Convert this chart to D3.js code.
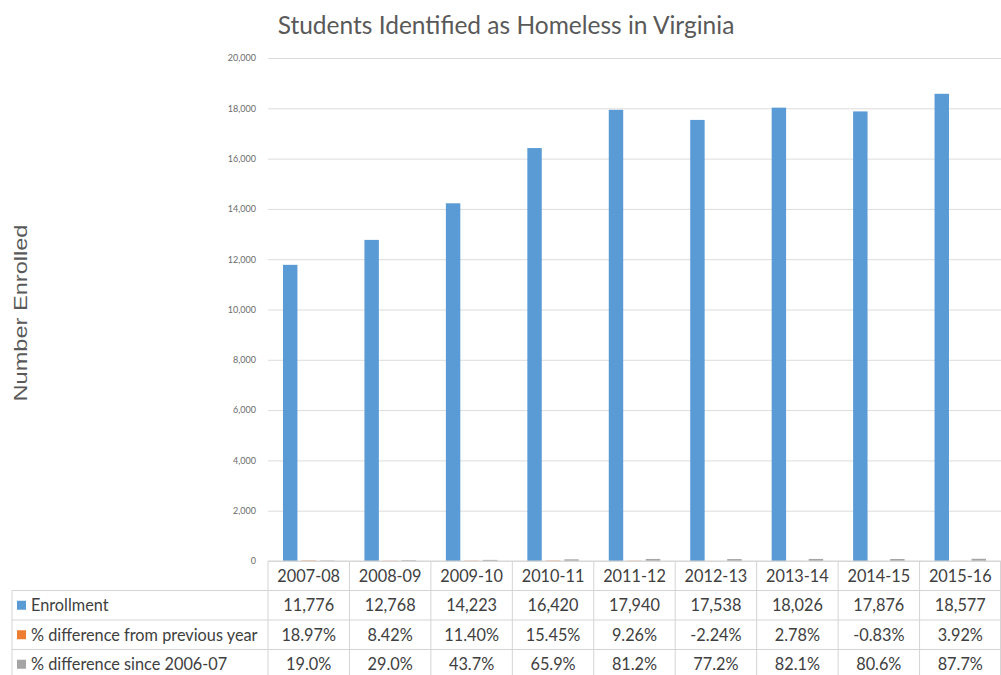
<!DOCTYPE html>
<html>
<head>
<meta charset="utf-8">
<script src="https://cdn.jsdelivr.net/npm/d3@7/dist/d3.min.js"></script>
<style>
  body { margin: 0; background: #fff; }
  svg { display: block; }
</style>
</head>
<body>
<svg id="chart" width="1001" height="675"></svg>
<script>
// chart data
var years = ["2007-08", "2008-09", "2009-10", "2010-11", "2011-12", "2012-13", "2013-14", "2014-15", "2015-16"];
var enrollment = [11776, 12768, 14223, 16420, 17940, 17538, 18026, 17876, 18577];
var diffPrev = [18.97, 8.42, 11.40, 15.45, 9.26, -2.24, 2.78, -0.83, 3.92];
var diffSince = [19.0, 29.0, 43.7, 65.9, 81.2, 77.2, 82.1, 80.6, 87.7];
var seriesNames = ["Enrollment", "% difference from previous year", "% difference since 2006-07"];
var seriesLabels = [
  ["11,776", "12,768", "14,223", "16,420", "17,940", "17,538", "18,026", "17,876", "18,577"],
  ["18.97%", "8.42%", "11.40%", "15.45%", "9.26%", "-2.24%", "2.78%", "-0.83%", "3.92%"],
  ["19.0%", "29.0%", "43.7%", "65.9%", "81.2%", "77.2%", "82.1%", "80.6%", "87.7%"]
];
var yTicks = [0, 2000, 4000, 6000, 8000, 10000, 12000, 14000, 16000, 18000, 20000];

var colors = ["#5b9bd5", "#ed7d31", "#a5a5a5"];
var series = [enrollment, diffPrev, diffSince];

var svg = d3.select("#chart");
var plotL = 268, plotR = 1001, plotT = 58, plotB = 561;
var tableLeft = 12, rowH = 29.5;
var font = "Lato, 'Open Sans', sans-serif";

var x = d3.scaleBand().domain(years).range([plotL, plotR]).paddingInner(0).paddingOuter(0);
var xs = d3.scaleBand().domain(d3.range(3)).range([0, x.bandwidth()]).paddingInner(0.22).paddingOuter(0.81);
var y = d3.scaleLinear().domain([0, 20000]).range([plotB, plotT]);

// grid
svg.append("g")
  .selectAll("line").data(yTicks).join("line")
  .attr("x1", plotL).attr("x2", plotR)
  .attr("y1", d => y(d) + 0.5).attr("y2", d => y(d) + 0.5)
  .attr("stroke", "#dcdcdc").attr("stroke-width", 1);

// y axis labels
var yAxis = d3.axisLeft(y).tickValues(yTicks).tickFormat(d3.format(",")).tickSize(0).tickPadding(12);
var ya = svg.append("g").attr("transform", "translate(" + plotL + ",0)").call(yAxis);
ya.select(".domain").remove();
ya.selectAll("text").attr("fill", "#6b6b6b").style("font-family", font).style("font-size", "9px");

// bars
series.forEach(function(vals, si) {
  svg.append("g").selectAll("rect").data(vals).join("rect")
    .attr("x", (d, i) => x(years[i]) + xs(si))
    .attr("width", xs.bandwidth())
    .attr("y", d => Math.min(y(d), y(0)))
    .attr("height", d => Math.abs(y(d) - y(0)))
    .attr("fill", colors[si]);
});

// title
svg.append("text")
  .attr("x", 506).attr("y", 34)
  .attr("text-anchor", "middle")
  .attr("fill", "#595959")
  .style("font-family", font).style("font-size", "24.5px")
  .text("Students Identified as Homeless in Virginia");

// y label
svg.append("text")
  .attr("transform", "translate(27,313) rotate(-90)")
  .attr("text-anchor", "middle")
  .attr("fill", "#595959")
  .attr("textLength", 177).attr("lengthAdjust", "spacingAndGlyphs")
  .style("font-family", "'Liberation Sans', Arial, sans-serif").style("font-size", "19px")
  .text("Number Enrolled");

// data table
var tbl = svg.append("g");
var lineColor = "#d4d4d4";
var rowsY = d3.range(5).map(i => plotB + i * rowH);
tbl.append("line").attr("x1", plotL).attr("x2", plotR).attr("y1", rowsY[0]).attr("y2", rowsY[0]).attr("stroke", lineColor);
for (var r = 1; r < 5; r++) {
  tbl.append("line").attr("x1", tableLeft).attr("x2", plotR).attr("y1", rowsY[r]).attr("y2", rowsY[r]).attr("stroke", lineColor);
}
tbl.append("line").attr("x1", tableLeft).attr("x2", tableLeft).attr("y1", rowsY[1]).attr("y2", 675).attr("stroke", lineColor);
years.forEach(function(yr) {
  tbl.append("line").attr("x1", x(yr)).attr("x2", x(yr)).attr("y1", rowsY[0]).attr("y2", 675).attr("stroke", lineColor);
});
tbl.append("line").attr("x1", plotR - 0.5).attr("x2", plotR - 0.5).attr("y1", rowsY[0]).attr("y2", 675).attr("stroke", lineColor);

// year header
tbl.selectAll("text.yr").data(years).join("text")
  .attr("class", "yr")
  .attr("x", d => x(d) + x.bandwidth() / 2)
  .attr("y", rowsY[0] + rowH / 2 + 6)
  .attr("text-anchor", "middle")
  .attr("fill", "#404040")
  .style("font-family", font).style("font-size", "16.3px")
  .text(d => d);

seriesNames.forEach(function(name, si) {
  var cy = rowsY[si + 1] + rowH / 2;
  tbl.append("rect").attr("x", 17).attr("y", cy - 4.5).attr("width", 9).attr("height", 9).attr("fill", colors[si]);
  tbl.append("text")
    .attr("x", 31).attr("y", cy + 6)
    .attr("fill", "#404040")
    .style("font-family", font).style("font-size", "16.3px")
    .text(name);
  tbl.selectAll("text.v" + si).data(seriesLabels[si]).join("text")
    .attr("class", "v" + si)
    .attr("x", (d, i) => x(years[i]) + x.bandwidth() / 2)
    .attr("y", cy + 6)
    .attr("text-anchor", "middle")
    .attr("fill", "#404040")
    .style("font-family", font).style("font-size", "16.3px")
    .text(d => d);
});
</script>
</body>
</html>
